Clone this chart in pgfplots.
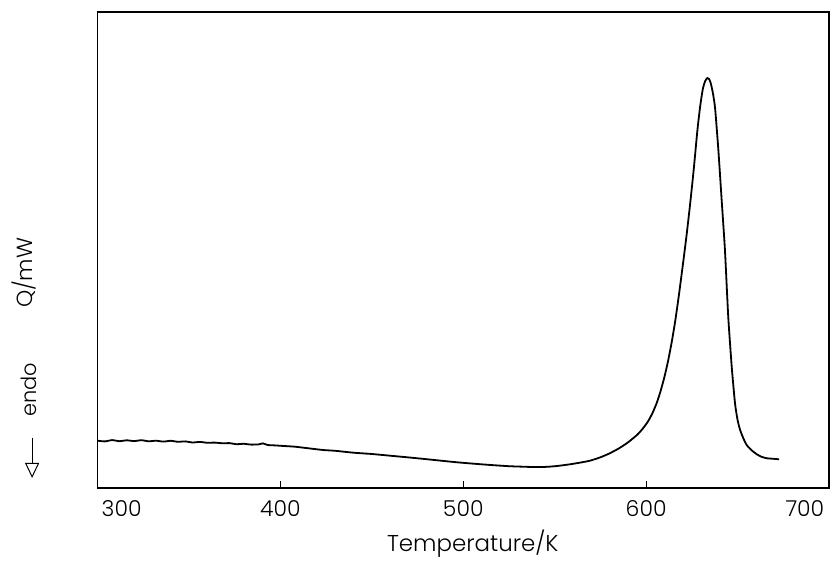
\documentclass[border=0pt]{standalone}
\usepackage{fontspec}
\setmainfont{Poppins}[UprightFont=* Light]
\usepackage{pgfplots}
\pgfplotsset{compat=1.18}
\usetikzlibrary{arrows.meta}

\begin{document}
\begin{tikzpicture}
\begin{axis}[
  scale only axis, width=365.75bp, height=238bp,
  xmin=300, xmax=700, ymin=0, ymax=476,
  axis line style={line width=0.9bp},
  xtick={400,500,600}, ytick=\empty,
  xtick pos=bottom, tick align=inside,
  major tick length=3.5bp, tick style={line width=0.6bp, black},
  xticklabel style={anchor=center, yshift=-10.4bp, font=\fontsize{11}{13}\selectfont},
  /pgf/number format/assume math mode=true,
  clip=false,
]
% DSC trace
\addplot[black, line width=0.9bp, smooth, tension=0.35] coordinates {
(300,47.3)(304,46.6)(308,47.9)(312,46.8)(316,47.7)(320,46.9)(324,47.8)(328,46.7)
(332,47.3)(336,46.4)(340,47.2)(344,46.2)(348,46.6)(352,45.5)(356,46.1)(360,45.2)
(364,45.4)(368.6,44.7)(372,44.9)(376,43.8)(380,44.2)(384,43.4)(388,43.6)(390.5,44.6)
(393,43.0)(397,42.6)(402,42.0)(408,41.3)(414,40.0)(423.3,38.0)(430,37.2)(440,35.3)
(450,34.0)(460,32.3)(470,30.6)(480,28.8)(490,26.9)(496.6,25.7)(505,24.4)(515,23.0)
(525,21.8)(532.7,21.3)(540,20.9)(546,21.2)(551.3,22.0)(558,23.6)(564,25.4)(569.3,27.3)
(575,30.7)(580,34.6)(585,39.5)(590,45.5)(595,53)(598,59)(601,66.5)(603.5,75)
(606,86)(608,97.5)(610,111)(612,127)(614,146)(616,168)(618,194)(620,222)
(622,251)(624,283)(626,318)(628,357)(629.5,381)(631,399)(632.3,407)(633.5,410)
(634.4,409)(635.3,405)(636.4,396)(637.7,380)(639.5,338)(641.3,288)
(643.1,238)(644.9,171.3)(646.8,121.3)(648.6,84.7)(650.0,68)(651.4,58)(653.2,49.5)
(655.0,43)(657.5,38)(660.5,33.7)(663,31.3)(666.0,29.7)(669,29.3)(672.7,28.7)
};
\node[anchor=center, yshift=-10.4bp, font=\fontsize{11}{13}\selectfont] at (axis cs:313.2,0) {300};
\node[anchor=center, yshift=-10.4bp, font=\fontsize{11}{13}\selectfont] at (axis cs:686.8,0) {700};
\node[anchor=base, yshift=-31.9bp, font=\fontsize{11.5}{13}\selectfont] at (rel axis cs:0.513,0) {Temperature/K};
\node[anchor=base, rotate=90, font=\fontsize{11}{13}\selectfont] at ([xshift=-32.3bp]rel axis cs:0,0.452) {Q/mW};
\node[anchor=base, rotate=90, font=\fontsize{10.5}{13}\selectfont] at ([xshift=-30.3bp]rel axis cs:0,0.206) {endo};
\draw[line width=0.5bp, -{Triangle[open, length=7.5bp, width=7bp]}] ([xshift=-32.7bp, yshift=25bp]rel axis cs:0,0) -- ([xshift=-32.7bp, yshift=5bp]rel axis cs:0,0);
\coordinate (bl) at (rel axis cs:0,0);
\coordinate (tr) at (rel axis cs:1,1);
\end{axis}
\pgfresetboundingbox
\path ([shift={(-48.75bp,-36.5bp)}]bl) rectangle ([shift={(1bp,6bp)}]tr);
\end{tikzpicture}
\end{document}
